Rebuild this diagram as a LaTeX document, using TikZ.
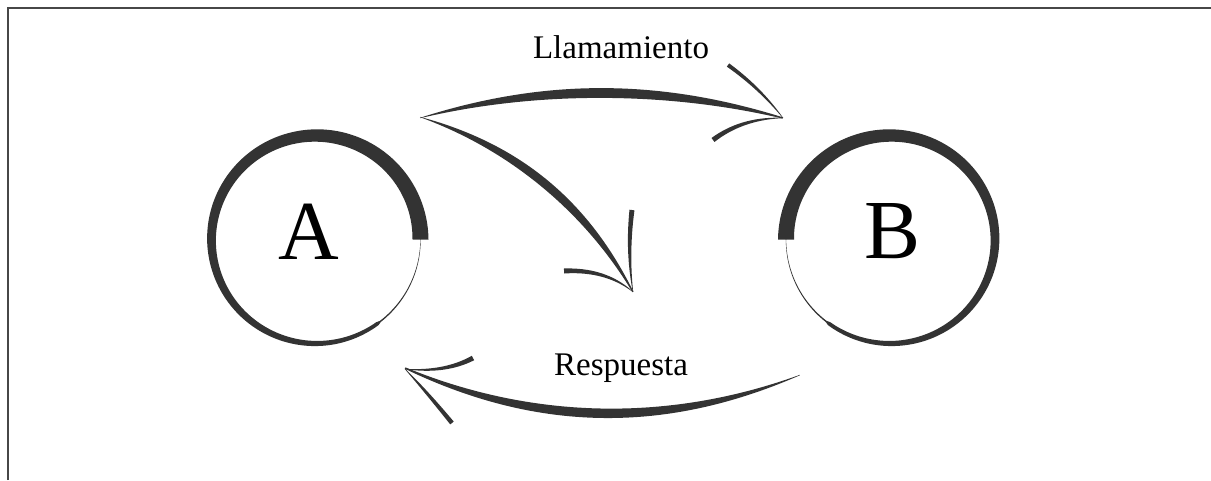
\documentclass[tikz,border=0pt]{standalone}
\usepackage{fontspec}
\setmainfont{Liberation Serif}
\definecolor{ink}{HTML}{333333}
\tikzset{
  declare function={
    bzx(\t)=(1-\t)^2*\Pax+2*(1-\t)*\t*\Pbx+\t^2*\Pcx;
    bzy(\t)=(1-\t)^2*\Pay+2*(1-\t)*\t*\Pby+\t^2*\Pcy;
    bdx(\t)=0.01*((1-\t)*(\Pbx-\Pax)+\t*(\Pcx-\Pbx));
    bdy(\t)=0.01*((1-\t)*(\Pby-\Pay)+\t*(\Pcy-\Pby));
    bnl(\t)=veclen(bdx(\t),bdy(\t));
    bnx(\t)=-bdy(\t)/bnl(\t);
    bny(\t)=bdx(\t)/bnl(\t);
    bww(\t)=\Wst*(1-\t)+\Wen*\t+\Wbu*sin(180*\t);
    cws(\s)=(\s<308) ? (16-14.5*\s/360) : (1.4-1.1*(\s-308)/52);
    cwa(\t)=cws(\t);
    cwb(\t)=cws(180-\t);
  },
  letter/.style={font=\fontsize{84}{90}\selectfont, anchor=base, inner sep=0pt},
  lbl/.style={font=\fontsize{33}{38}\selectfont, anchor=base, inner sep=0pt},
  frameline/.style={draw=ink!90, line width=1.4pt},
}
% tapered quadratic stroke: x0 y0 x1 y1 x2 y2 wstart wend wbulge
\newcommand\taper[9]{%
  \def\Pax{#1}\def\Pay{#2}\def\Pbx{#3}\def\Pby{#4}\def\Pcx{#5}\def\Pcy{#6}%
  \def\Wst{#7}\def\Wen{#8}\def\Wbu{#9}%
  \fill[ink] plot[domain=0:1,samples=60,variable=\t]
      ({bzx(\t)+0.5*bww(\t)*bnx(\t)},{bzy(\t)+0.5*bww(\t)*bny(\t)})
    -- plot[domain=1:0,samples=60,variable=\t]
      ({bzx(\t)-0.5*bww(\t)*bnx(\t)},{bzy(\t)-0.5*bww(\t)*bny(\t)})
    -- cycle;}
\begin{document}
\begin{tikzpicture}[x=1pt,y=-1pt]
\useasboundingbox (0,0) rectangle (1211,480);
% frame
\coordinate (fa) at (8,480);
\coordinate (fb) at (8,8);
\coordinate (fc) at (1211,8);
\draw[frameline] (fa) -- (fb) -- (fc);
% circle A
\fill[ink] plot[domain=0:360,samples=181,variable=\t]
    ({316+(104.5+0.5*cwa(\t))*cos(\t)},{239.5-(104+0.5*cwa(\t))*sin(\t)})
  -- plot[domain=360:0,samples=181,variable=\t]
    ({316+(104.5-0.5*cwa(\t))*cos(\t)},{239.5-(104-0.5*cwa(\t))*sin(\t)})
  -- cycle;
% circle B
\fill[ink] plot[domain=180:-180,samples=181,variable=\t]
    ({890.5+(104.5+0.5*cwb(\t))*cos(\t)},{239.5-(104+0.5*cwb(\t))*sin(\t)})
  -- plot[domain=-180:180,samples=181,variable=\t]
    ({890.5+(104.5-0.5*cwb(\t))*cos(\t)},{239.5-(104-0.5*cwb(\t))*sin(\t)})
  -- cycle;
\node[letter] (A) at (309,259) {A};
\node[letter] (B) at (893,258) {B};
% Llamamiento arrow
\taper{420}{118}{600}{68}{783}{118}{0.4}{1.2}{9}
\taper{728}{65}{760}{88}{783}{118}{4}{0.4}{0.5}
\taper{713}{140}{742}{118}{783}{118}{5}{0.4}{0.5}
% diagonal arrow
\taper{420}{117}{561.5}{161.5}{633}{292}{0.3}{1}{8}
\taper{632}{210}{627}{252}{633}{292}{5}{0.4}{0.5}
\taper{564}{271}{606}{269}{633}{292}{5}{0.4}{0.5}
% Respuesta arrow
\taper{800}{375}{600}{455}{405}{368}{0.4}{1.5}{8.5}
\taper{473}{358}{445}{373}{405}{369}{5}{0.4}{0.5}
\taper{452}{423}{425}{390}{405}{369}{4.5}{0.4}{0.5}
% labels
\node[lbl] (l1) at (621,58) {Llamamiento};
\node[lbl] (l2) at (621,375) {Respuesta};
\end{tikzpicture}
\end{document}
